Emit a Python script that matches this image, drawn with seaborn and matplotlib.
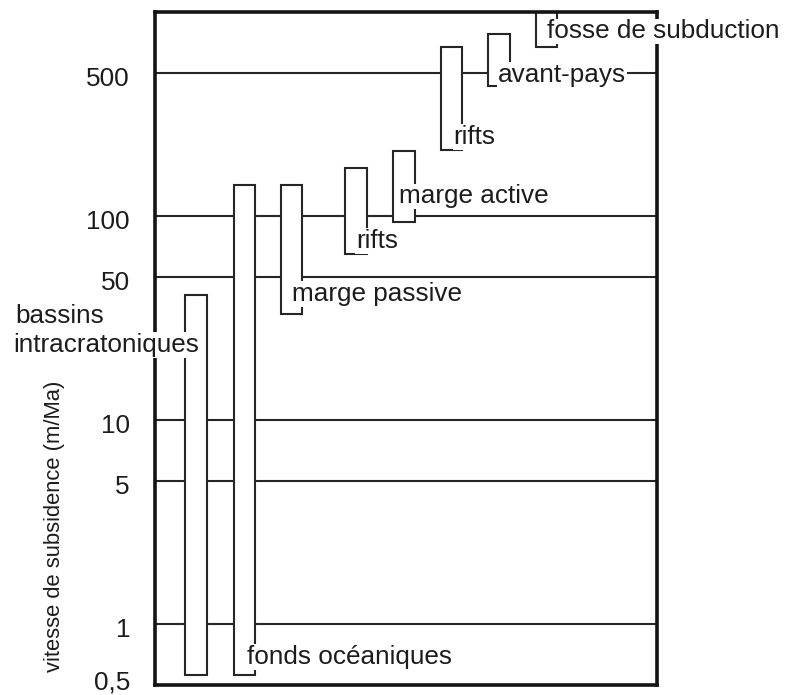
import matplotlib
matplotlib.use("Agg")
import matplotlib.pyplot as plt
from matplotlib.ticker import NullLocator
from matplotlib.transforms import ScaledTranslation
import seaborn as sns

# Subsidence rate ranges (m/Ma) by sedimentary basin setting
environments = ["bassins intracratoniques", "fonds océaniques", "marge passive",
                "rifts", "marge active", "rifts", "avant-pays", "fosse de subduction"]
rate_min = [0.56, 0.56, 33, 65, 93, 210, 433, 670]
rate_max = [41, 141, 141, 172, 209, 670, 776, 1000]

tick_values = [0.5, 1, 5, 10, 50, 100, 500]
tick_labels = ["0,5", "1", "5", "10", "50", "100", "500"]
grid_values = [1, 5, 10, 50, 100, 500]

# Layout: bar centres along a 0-100 horizontal frame, label offsets (pixels)
x_centres = [8.2, 17.8, 27.2, 40.0, 49.6, 59.1, 68.5, 78.0]
bar_width = 4.3
label_offsets = [None, (2.5, 11), (0, 13), (0, 6), (-5, 19), (2, 6), (-1, 4), (0, 9)]

INK = "#1c1c1c"
LINE = "#262626"
FS = 18.8

sns.set_theme(style="white")
plt.rcParams["font.family"] = ["Liberation Sans", "DejaVu Sans"]

fig = plt.figure(figsize=(7.85, 6.95), dpi=100)
ax = fig.add_axes([155 / 785, 10 / 695, 502 / 785, 673 / 695])
ax.set_yscale("log")
ax.set_ylim(0.5, 1000)
ax.set_xlim(0, 100)

for v in grid_values:
    ax.axhline(v, color=LINE, lw=1.5, zorder=1)

heights = [hi - lo for lo, hi in zip(rate_min, rate_max)]
ax.bar(x_centres, heights, bottom=rate_min, width=bar_width,
       facecolor="white", edgecolor=LINE, linewidth=1.5, zorder=2)

for s in ax.spines.values():
    s.set_linewidth(2.6)
    s.set_color("#141414")
    s.set_visible(True)

ax.set_yticks(tick_values, tick_labels)
ax.yaxis.set_minor_locator(NullLocator())
ax.set_xticks([])
ax.tick_params(axis="y", length=0, pad=18, labelsize=FS, labelcolor=INK)
ax.grid(False)

# Sit the tick numbers just under their lines; lift the bottom one off the edge
for tick, v in zip(ax.yaxis.get_major_ticks(), tick_values):
    dy = 5 if v == 0.5 else -3.5
    tick.label1.set_transform(tick.label1.get_transform()
                              + ScaledTranslation(0, dy / 100, fig.dpi_scale_trans))

box = dict(facecolor="white", edgecolor="none", pad=0.5)
for i in range(1, len(environments)):
    dx, dy = label_offsets[i]
    ax.annotate(environments[i], xy=(x_centres[i], rate_min[i]),
                xytext=(dx, dy), textcoords="offset pixels",
                ha="left", va="baseline", fontsize=FS, color=INK,
                bbox=box, zorder=5, annotation_clip=False)

# Two-line label for the intracratonic basins, left of the frame
word1, word2 = environments[0].split(" ")
fig.text(15 / 785, 1 - 323 / 695, word1, ha="left", va="baseline",
         fontsize=FS, color=INK, bbox=box, zorder=5)
fig.text(13 / 785, 1 - 352 / 695, word2, ha="left", va="baseline",
         fontsize=FS, color=INK, bbox=box, zorder=5)

ax.set_ylabel("vitesse de subsidence (m/Ma)", fontsize=15.8, color=INK)
ax.yaxis.set_label_coords(-0.179, 0.236)

fig.savefig("out.png", dpi=100)
